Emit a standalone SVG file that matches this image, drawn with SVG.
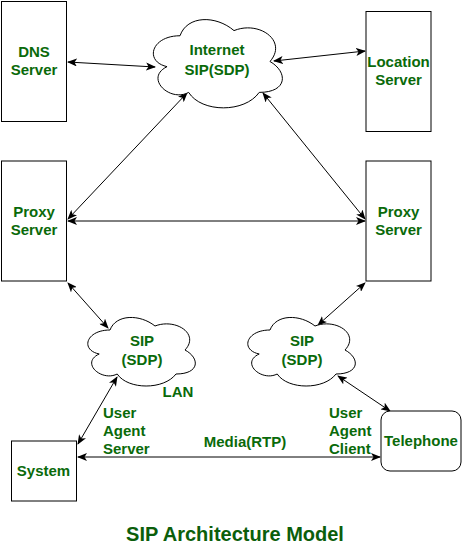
<svg xmlns="http://www.w3.org/2000/svg" width="463" height="546" viewBox="0 0 463 546">
<style>
.box{fill:#fff;stroke:#000;stroke-width:1}
.cloud{fill:#fff;stroke:#000;stroke-width:1}
.t{font-family:"Liberation Sans",Arial,sans-serif;font-weight:bold;font-size:15px;fill:#0a6a0a;text-anchor:middle}
.l{text-anchor:start}
.title{font-size:20px;fill:#0b5e0b}
.c{fill:none;stroke:#000;stroke-width:1;marker-start:url(#ah);marker-end:url(#ah)}
</style>
<defs>
<marker id="ah" viewBox="0 0 10 8" refX="9" refY="4" markerWidth="10" markerHeight="8" markerUnits="userSpaceOnUse" orient="auto-start-reverse">
<path d="M0,0 L10,4 L0,8 L2.5,4 Z" fill="#000"/>
</marker>
</defs>
<rect width="463" height="546" fill="#fff"/>
<g id="connectors">
<line class="c" x1="68" y1="62" x2="155" y2="67"/>
<line class="c" x1="274" y1="61" x2="365" y2="51"/>
<line class="c" x1="187" y1="93" x2="68" y2="219"/>
<line class="c" x1="263" y1="93" x2="365" y2="219"/>
<line class="c" x1="68" y1="221" x2="365" y2="221"/>
<line class="c" x1="68" y1="283" x2="108" y2="328"/>
<line class="c" x1="365" y1="283" x2="318" y2="325"/>
<line class="c" x1="117" y1="377" x2="78" y2="444"/>
<line class="c" x1="338" y1="376" x2="390" y2="411"/>
<line class="c" x1="78" y1="457" x2="380" y2="457"/>
</g>
<g id="dns">
<rect class="box" x="1.5" y="1.5" width="65" height="120"/>
<text class="t" x="34" y="57">DNS</text>
<text class="t" x="34" y="75">Server</text>
</g>
<g id="location">
<rect class="box" x="366" y="11.5" width="65" height="120"/>
<text class="t" x="398.5" y="67">Location</text>
<text class="t" x="398.5" y="85">Server</text>
</g>
<g id="internet">
<path class="cloud" d="M180,35.75 C151.2,35.75 144,61.5 167.04,66.65 C144,77.98 169.92,102.7 188.64,92.4 C201.6,113 244.8,113 259.2,92.4 C288,92.4 288,71.8 270,61.5 C288,40.9 259.2,20.3 234,30.6 C216,15.15 187.2,15.15 180,35.75 Z"/>
<text class="t" x="217" y="55">Internet</text>
<text class="t" x="217" y="75">SIP(SDP)</text>
</g>
<g id="proxy-left">
<rect class="box" x="1.5" y="161" width="65" height="120"/>
<text class="t" x="34" y="217">Proxy</text>
<text class="t" x="34" y="235">Server</text>
</g>
<g id="proxy-right">
<rect class="box" x="366" y="161" width="65" height="120"/>
<text class="t" x="398.5" y="217">Proxy</text>
<text class="t" x="398.5" y="235">Server</text>
</g>
<g id="sip-left">
<path class="cloud" d="M110,330 C86,330 80,350 99.2,354 C80,362.8 101.6,382 117.2,374 C128,390 164,390 176,374 C200,374 200,358 185,350 C200,334 176,318 155,326 C140,314 116,314 110,330 Z"/>
<text class="t" x="142" y="346">SIP</text>
<text class="t" x="142" y="365">(SDP)</text>
</g>
<g id="sip-right">
<path class="cloud" d="M270,330 C246,330 240,350 259.2,354 C240,362.8 261.6,382 277.2,374 C288,390 324,390 336,374 C360,374 360,358 345,350 C360,334 336,318 315,326 C300,314 276,314 270,330 Z"/>
<text class="t" x="302" y="346">SIP</text>
<text class="t" x="302" y="365">(SDP)</text>
</g>
<g id="lan-label">
<text class="t" x="178" y="397">LAN</text>
</g>
<g id="system">
<rect class="box" x="11.5" y="441" width="65" height="60"/>
<text class="t" x="43.5" y="476">System</text>
</g>
<g id="telephone">
<rect class="box" x="381" y="411" width="80" height="60" rx="9" ry="9"/>
<text class="t" x="421" y="446">Telephone</text>
</g>
<g id="labels">
<text class="t l" x="103" y="418">User</text>
<text class="t l" x="103" y="436">Agent</text>
<text class="t l" x="103" y="454">Server</text>
<text class="t l" x="329" y="418">User</text>
<text class="t l" x="329" y="436">Agent</text>
<text class="t l" x="329" y="454">Client</text>
<text class="t" x="245" y="447">Media(RTP)</text>
</g>
<g id="title">
<text class="t title" x="235" y="541">SIP Architecture Model</text>
</g>
</svg>
